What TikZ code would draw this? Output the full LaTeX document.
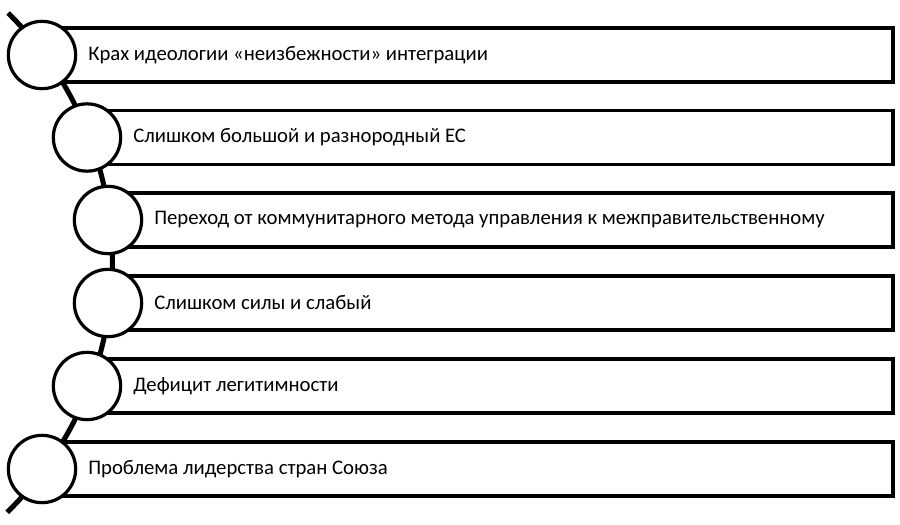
\documentclass[tikz,border=0pt]{standalone}
\usepackage{fontspec}
\setmainfont{Carlito}
\begin{document}
\begin{tikzpicture}[x=0.75pt,y=-0.75pt,
  bar/.style={draw=black,line width=2.4pt,fill=white},
  dot/.style={circle,draw=black,line width=2.4pt,fill=white,minimum size=50.5pt,inner sep=0pt},
  lbl/.style={anchor=west,inner sep=0pt,font=\fontsize{15.55pt}{18pt}\selectfont,text=black},
  spine/.style={draw=black,line width=3.8pt}]
\useasboundingbox (0,0) rectangle (900,525);
\coordinate (arcstart) at (8.1,13);
\draw[spine] (arcstart) arc[start angle=-45.4,end angle=45.6,radius=350];
\foreach \i/\cx/\cy in {1/42/55, 2/87/137.5, 3/108/220, 4/108/303, 5/87/386, 6/42/469}{
  \draw[bar] (\cx,\cy-27) rectangle (893,\cy+27);
  \node[dot] (c\i) at (\cx,\cy) {};
  \coordinate (t\i) at (\cx+46,\cy);
}
\node[lbl] (l1) at (t1) {Крах идеологии «неизбежности» интеграции};
\node[lbl] (l2) at (t2) {Слишком большой и разнородный ЕС};
\node[lbl] (l3) at (t3) {Переход от коммунитарного метода управления к межправительственному};
\node[lbl] (l4) at (t4) {Слишком силы и слабый};
\node[lbl] (l5) at (t5) {Дефицит легитимности};
\node[lbl] (l6) at (t6) {Проблема лидерства стран Союза};
\end{tikzpicture}
\end{document}
